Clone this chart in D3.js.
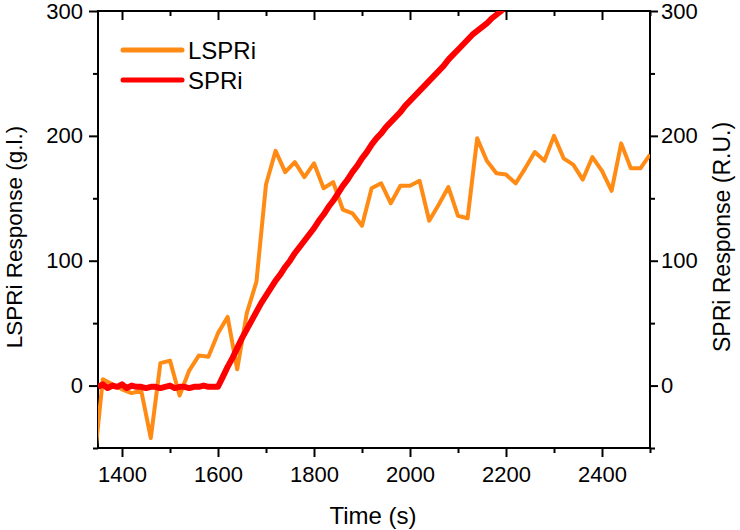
<!DOCTYPE html>
<html>
<head>
<meta charset="utf-8">
<script src="https://cdn.jsdelivr.net/npm/d3@7"></script>
<style>
  html, body { margin: 0; padding: 0; background: #fff; }
  svg text { font-family: "Liberation Sans", Arial, sans-serif; fill: #000; }
</style>
</head>
<body>
<svg id="chart" width="740" height="530"></svg>
<script>
// ---- data ----
const lspriTime = [1340,1360,1380,1400,1420,1440,1460,1480,1500,1520,1540,1560,1580,1600,1620,1640,1660,1680,1700,1720,1740,1760,1780,1800,1820,1840,1860,1880,1900,1920,1940,1960,1980,2000,2020,2040,2060,2080,2100,2120,2140,2160,2180,2200,2220,2240,2260,2280,2300,2320,2340,2360,2380,2400,2420,2440,2460,2480,2500];
const lspriValue = [-70,5,1,-3,-6,-4,-42,18,20,-8,12,24,23,42,55,13,58,83,161,188,171,179,167,178,158,163,141,138,128,158,162,146,160,160,164,132,145,159,136,134,198,180,170,169,162,174,187,180,200,182,177,165,183,172,156,194,174,174,185];

const spriTime = [1350,1360,1370,1380,1390,1400,1410,1420,1430,1440,1450,1460,1470,1480,1490,1500,1510,1520,1530,1540,1550,1560,1570,1580,1590,1600,1610,1620,1630,1640,1650,1660,1670,1680,1690,1700,1710,1720,1730,1740,1750,1760,1770,1780,1790,1800,1810,1820,1830,1840,1850,1860,1870,1880,1890,1900,1910,1920,1930,1940,1950,1960,1970,1980,1990,2000,2010,2020,2030,2040,2050,2060,2070,2080,2090,2100,2110,2120,2130,2140,2150,2160,2170,2180,2190,2200];
const spriValue = [-1,1,-2,0,-1,1,-2,0,-1,-1,-2,-1,-1,-2,-1,0,-2,-1,-1,-2,-1,-1,0,-1,-1,-1,7,15,22,30,38,45,52,59,66,72,78,84,89,95,100,106,111,116,121,126,132,137,143,148,154,160,165,171,176,182,187,193,198,202,207,211,215,219,224,228,232,236,240,244,248,252,256,261,265,269,273,277,281,284,287,290,294,297,300,304];

const xMajor = [1400,1600,1800,2000,2200,2400];
const xMinor = [1500,1700,1900,2100,2300,2500];
const yMajor = [0,100,200,300];
const yMinor = [-50,50,150,250];

const seriesNames = ["LSPRi","SPRi"];
const seriesColors = ["#ff8a14","#ff0000"];

// ---- layout ----
const L = 98, R = 650, T = 11, B = 448;
const svg = d3.select("#chart");
const x = d3.scaleLinear().domain([1350, 2500]).range([L, R]);
const y = d3.scaleLinear().domain([-50, 300]).range([B, T]);

svg.append("defs").append("clipPath").attr("id","plotclip")
  .append("rect").attr("x", L).attr("y", T).attr("width", R-L).attr("height", B-T);

function styleAxis(g){
  g.select(".domain").remove();
  g.selectAll(".tick line").attr("stroke","#000").attr("stroke-width",2);
  g.selectAll(".tick text").attr("font-size","22px");
}

// bottom
svg.append("g").attr("transform",`translate(0,${B})`)
  .call(d3.axisBottom(x).tickValues(xMajor).tickSize(9).tickPadding(9).tickFormat(d3.format("d")))
  .call(styleAxis);
svg.append("g").attr("transform",`translate(0,${B})`)
  .call(d3.axisBottom(x).tickValues(xMinor).tickSize(5).tickFormat(""))
  .call(styleAxis);
// top (inward)
svg.append("g").attr("transform",`translate(0,${T})`)
  .call(d3.axisTop(x).tickValues(xMajor).tickSize(-9).tickFormat(""))
  .call(styleAxis);
svg.append("g").attr("transform",`translate(0,${T})`)
  .call(d3.axisTop(x).tickValues(xMinor).tickSize(-5).tickFormat(""))
  .call(styleAxis);
// left
svg.append("g").attr("transform",`translate(${L},0)`)
  .call(d3.axisLeft(y).tickValues(yMajor).tickSize(9).tickPadding(6).tickFormat(d3.format("d")))
  .call(styleAxis);
svg.append("g").attr("transform",`translate(${L},0)`)
  .call(d3.axisLeft(y).tickValues(yMinor).tickSize(5).tickFormat(""))
  .call(styleAxis);
// right
svg.append("g").attr("transform",`translate(${R},0)`)
  .call(d3.axisRight(y).tickValues(yMajor).tickSize(8).tickPadding(3).tickFormat(d3.format("d")))
  .call(styleAxis);
svg.append("g").attr("transform",`translate(${R},0)`)
  .call(d3.axisRight(y).tickValues(yMinor).tickSize(5).tickFormat(""))
  .call(styleAxis);

// frame
svg.append("rect").attr("x",L).attr("y",T).attr("width",R-L).attr("height",B-T)
  .attr("fill","none").attr("stroke","#000").attr("stroke-width",2);

// lines
const plot = svg.append("g").attr("clip-path","url(#plotclip)");
const lineGen = d3.line().x(d => x(d[0])).y(d => y(d[1]));
const lspri = lspriTime.map((t,i) => [t, lspriValue[i]]);
const spri = spriTime.map((t,i) => [t, spriValue[i]]);
plot.append("path").datum(lspri).attr("d", lineGen)
  .attr("fill","none").attr("stroke",seriesColors[0]).attr("stroke-width",4)
  .attr("stroke-linejoin","round");
plot.append("path").datum(spri).attr("d", lineGen)
  .attr("fill","none").attr("stroke",seriesColors[1]).attr("stroke-width",6)
  .attr("stroke-linejoin","round");

// legend
const leg = svg.append("g");
const legY = [50, 80];
seriesNames.forEach((n,i) => {
  leg.append("line").attr("x1",123).attr("x2",182).attr("y1",legY[i]).attr("y2",legY[i])
    .attr("stroke",seriesColors[i]).attr("stroke-width",5).attr("stroke-linecap","round");
  leg.append("text").attr("x",188).attr("y",legY[i]+9).attr("font-size","24px").text(n);
});

// axis titles
svg.append("text").attr("x",373).attr("y",524).attr("text-anchor","middle")
  .attr("font-size","24px").text("Time (s)");
svg.append("text").attr("transform","translate(21.5,237) rotate(-90)").attr("text-anchor","middle")
  .attr("font-size","22.5px").text("LSPRi Response (g.l.)");
svg.append("text").attr("transform","translate(730,237) rotate(-90)").attr("text-anchor","middle")
  .attr("font-size","23px").text("SPRi Response (R.U.)");
</script>
</body>
</html>
